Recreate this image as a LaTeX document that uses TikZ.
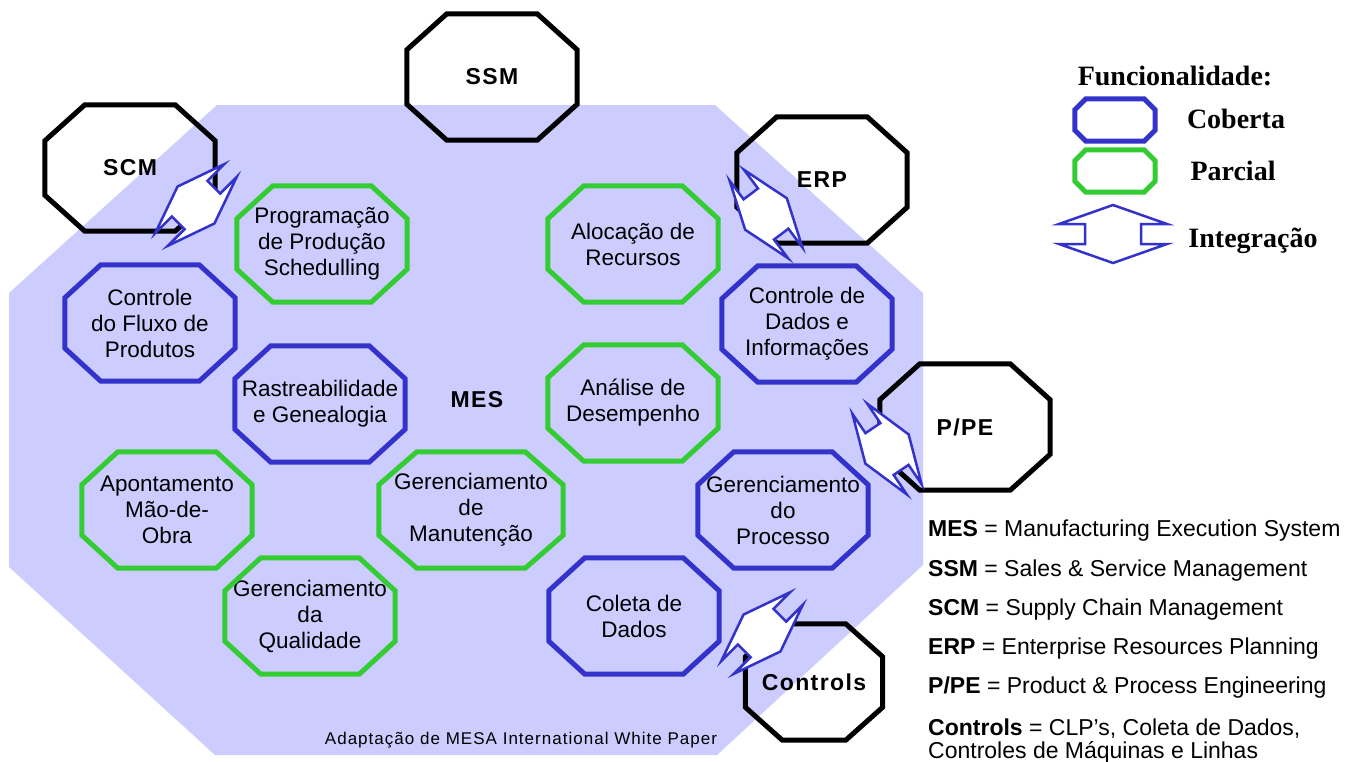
\documentclass[tikz,border=0pt]{standalone}
\usepackage{fontspec}
\setmainfont{Liberation Sans}
\newfontfamily\legfont{Liberation Serif}
\newfontfamily\sysfont[LetterSpace=6]{Liberation Sans}
\newfontfamily\notefont[LetterSpace=6]{Liberation Sans}
\usetikzlibrary{calc}

\definecolor{mesback}{RGB}{204,204,255}
\definecolor{cobblue}{RGB}{51,51,204}
\definecolor{pargreen}{RGB}{51,204,51}

\tikzset{
  func/.style={minimum width=170pt, minimum height=116pt, inner sep=0pt, align=center, font=\fontsize{22.5}{26}\selectfont},
  sys/.style={minimum width=170pt, minimum height=126pt, inner sep=0pt, font=\sysfont\bfseries\fontsize{23}{26}\selectfont},
  legbox/.style={minimum width=80pt, minimum height=42pt, inner sep=0pt},
  octline/.style={line width=5pt, line join=miter},
  integ/.style={draw=cobblue, fill=white, line width=2.5pt, line join=miter},
  keyline/.style={anchor=west, inner sep=0pt, align=left, font=\fontsize{23}{23}\selectfont},
  legtext/.style={font=\legfont\bfseries\fontsize{28}{30}\selectfont},
}

\begin{document}
\begin{tikzpicture}
	[x=1pt,y=-1pt]
	\fill[white] (0,0) rectangle (1351,761);
	\useasboundingbox (0,0) rectangle (1351,761);
	% MES area
	\fill[mesback] (217,105) -- (715,105) -- (923,293) -- (923,565) -- (717,755) -- (215,755) -- (9,567) -- (9,293) -- cycle;
	
	% functions
	\node[func] (prog) at (322,244) {Programação\\de Produção\\Schedulling};
	\node[func] (aloc) at (633,244) {Alocação de\\Recursos};
	\node[func] (fluxo) at (150,323) {Controle\\do Fluxo de\\Produtos};
	\node[func] (dados) at (807,324) {Controle de\\Dados e\\Informações};
	\node[func] (rastro) at (320,404) {Rastreabilidade\\e Genealogia};
	\node[func] (analise) at (633,403) {Análise de\\Desempenho};
	\node[func] (aponta) at (167,510) {Apontamento\\Mão-de-\\Obra};
	\node[func, minimum width=184pt] (manut) at (471,510) {Gerenciamento\\de\\Manutenção};
	\node[func] (processo) at (783,510) {Gerenciamento\\do\\Processo};
	\node[func] (quali) at (310,616) {Gerenciamento\\da\\Qualidade};
	\node[func] (coleta) at (634,616) {Coleta de\\Dados};
	\node[sys] (mes) at (477,400) {MES};
	
	% outside systems
	\node[sys] (ssm) at (492,77) {SSM};
	\node[sys] (scm) at (130,168) {SCM};
	\node[sys] (erp) at (822,180) {ERP};
	\node[sys] (ppe) at (965,427) {P/PE};
	\node[sys, minimum width=137pt, minimum height=116pt] (ctrl) at (814,682) {Controls};
	
	% legend
	\node[legtext] (legtitle) at (1175,76) {Funcionalidade:};
	\node[legbox] (legcob) at (1115,120) {};
	\node[legbox] (legpar) at (1115,171) {};
	\node[legtext] (txtcob) at (1236,119) {Coberta};
	\node[legtext] (txtpar) at (1233,171) {Parcial};
	\node[legtext] (txtint) at (1253,241) {Integração};
	
	\foreach \n/\col/\cx/\cy in {prog/pargreen/36/33, aloc/pargreen/36/33, fluxo/cobblue/36/33,
		dados/cobblue/36/33, rastro/cobblue/36/33, analise/pargreen/36/33, aponta/pargreen/36/33,
		manut/pargreen/38/33, processo/cobblue/36/33, quali/pargreen/36/33, coleta/cobblue/36/33,
		ssm/black/40/36, scm/black/40/36, erp/black/40/36, ppe/black/40/36, ctrl/black/37/33,
		legcob/cobblue/11/11, legpar/pargreen/11/11}
	\draw[octline, draw=\col] ([xshift=\cx pt]\n.north west) -- ([xshift=-\cx pt]\n.north east)
		-- ([yshift=-\cy pt]\n.north east) -- ([yshift=\cy pt]\n.south east)
		-- ([xshift=-\cx pt]\n.south east) -- ([xshift=\cx pt]\n.south west)
		-- ([yshift=\cy pt]\n.south west) -- ([yshift=-\cy pt]\n.north west) -- cycle;
	
	% integration arrows
	\coordinate (i-scm) at (196,205);
	\coordinate (i-erp) at (766,214);
	\coordinate (i-ppe) at (887,449);
	\coordinate (i-ctrl) at (762,633);
	\coordinate (i-leg) at (1113,234);
	\foreach \c/\ang/\sc in {i-scm/45/0.9, i-erp/-53/0.9, i-ppe/-56/0.9, i-ctrl/45/0.9, i-leg/0/1}
	\draw[integ, shift={(\c)}, rotate=\ang, scale=\sc] (0,-29) -- (54,-10) -- (28,-10) -- (28,10)
		-- (54,10) -- (0,29) -- (-54,10) -- (-28,10) -- (-28,-10) -- (-54,-10) -- cycle;
	
	% key
	\node[keyline] (kmes) at (928,531) {\textbf{MES} = Manufacturing Execution System};
	\node[keyline] (kssm) at (928,571) {\textbf{SSM} = Sales \& Service Management};
	\node[keyline] (kscm) at (928,610) {\textbf{SCM} = Supply Chain Management};
	\node[keyline] (kerp) at (928,649) {\textbf{ERP} = Enterprise Resources Planning};
	\node[keyline] (kppe) at (928,688) {\textbf{P/PE} = Product \& Process Engineering};
	\node[keyline] (kctrl) at (928,741) {\textbf{Controls} = CLP\symbol{39}s, Coleta de Dados,\\Controles de Máquinas e Linhas};
	\node[font=\notefont\fontsize{17}{20}\selectfont] (fonte) at (521,740) {Adaptação de MESA International White Paper};
\end{tikzpicture}
\end{document}
